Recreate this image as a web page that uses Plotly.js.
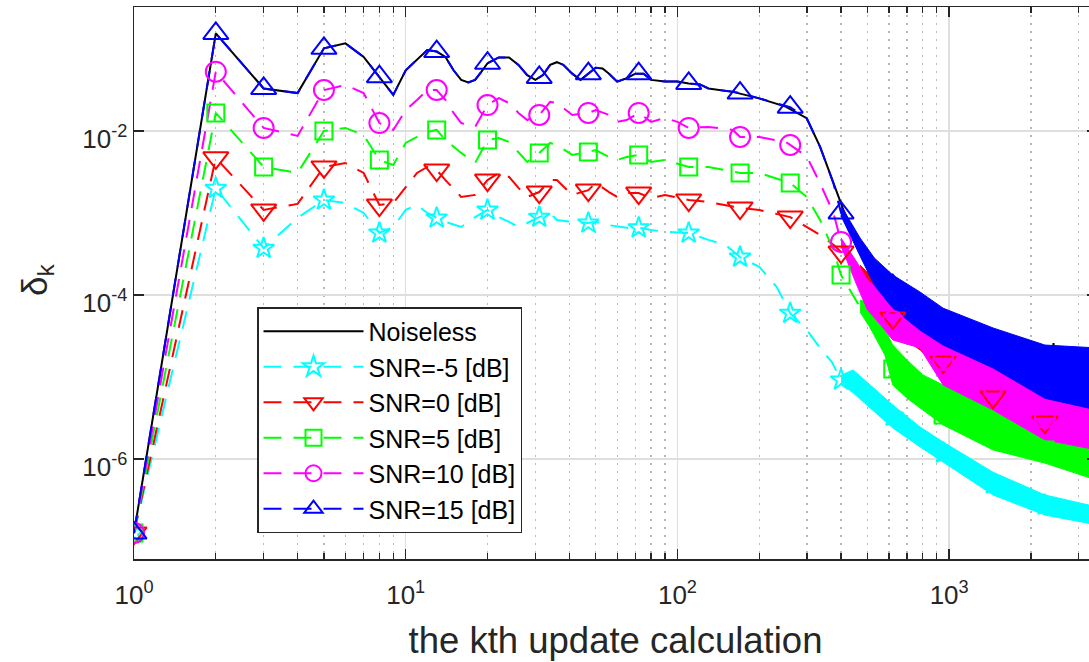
<!DOCTYPE html>
<html><head><meta charset="utf-8">
<script src="https://cdn.plot.ly/plotly-3.0.1.min.js"></script>
<style>html,body{margin:0;padding:0;overflow:hidden;background:#fff;} #chart{width:1097px;height:662px;}</style>
</head><body><div id="chart"></div>
<script>
// ---------- data ----------
const seriesNames = ['Noiseless', 'SNR=-5 [dB]', 'SNR=0 [dB]', 'SNR=5 [dB]', 'SNR=10 [dB]', 'SNR=15 [dB]'];
const markerK = [1,2,3,5,8,13,20,31,47,72,110,170,260,400,620,950,1450,2250];

const blackK = [1,2,3,4,5,6,7,8,9,10,11,12,13,14,15,16,17,18,19,20,22,24,26,28,30,32,34,36,38,41,44,47,50,53,56,60,65,70,75,80,90,100,110,121,130,160,200,250,299,335,375,408,470,557,620,780,815,829,843,935,949,963,1205,1225,1245,1450,2250,2390,2420,2450,3500];
const blackV = [1.25e-7,0.155,0.033,0.029,0.102,0.117,0.080,0.046,0.0275,0.055,0.073,0.097,0.093,0.080,0.055,0.042,0.039,0.042,0.053,0.067,0.079,0.079,0.064,0.048,0.042,0.048,0.064,0.069,0.064,0.050,0.042,0.050,0.059,0.058,0.050,0.040,0.044,0.050,0.050,0.042,0.040,0.040,0.038,0.037,0.033,0.030,0.025,0.0198,0.0143,0.0064,0.0023,0.00109,3.9e-4,1.5e-4,1.15e-4,6.6e-5,5.86e-5,8.7e-5,5.7e-5,4.2e-5,5.3e-5,4.0e-5,2.9e-5,3.74e-5,2.8e-5,2.26e-5,1.15e-5,1.12e-5,2.6e-5,1.1e-5,9.8e-6];

const cyanK = [1,2,3,4,5,6,7,8,9,10,11,12,13,14,16,18,20,22,24,26,28,31,34,36,41,47,50,56,65,72,80,90,110,130,150,170,200,232,260,300,335,370,400,443,620,782,950,1450,2250,3500];
const cyanV = [1.25e-7,2.0e-3,3.72e-4,8.7e-4,1.44e-3,1.32e-3,1.0e-3,5.7e-4,6.75e-4,1.09e-3,1.25e-3,1.0e-3,8.7e-4,7.8e-4,6.75e-4,8.9e-4,1.09e-3,8.9e-4,7.8e-4,6.75e-4,7.55e-4,8.9e-4,1.0e-3,8.2e-4,7.8e-4,7.55e-4,7.8e-4,7.1e-4,6.6e-4,6.6e-4,6.2e-4,5.9e-4,5.7e-4,4.7e-4,4.1e-4,2.9e-4,2.2e-4,1.25e-4,6.0e-5,3.7e-5,2.26e-5,1.52e-5,9.2e-6,8.8e-6,3.34e-6,1.85e-6,1.18e-6,5.0e-7,2.75e-7,2.0e-7];
const cyanTailK  = [400,443,620,782,950,1450,2250,3500];
const cyanTailHi = [1.05e-5,1.22e-5,4.56e-6,2.45e-6,1.61e-6,6.9e-7,3.64e-7,2.6e-7];
const cyanTailLo = [8.2e-6,6.4e-6,2.39e-6,1.4e-6,9.2e-7,3.64e-7,2.07e-7,1.57e-7];

const redK = [1,2,3,4,5,6,7,8,9,10,11,12,13,14,16,18,20,22,24,26,28,31,34,36,41,47,50,56,60,65,72,80,90,110,130,170,200,260,299,335,375,400,470,557,620,950,1450,2250,3500];
const redV = [1.25e-7,4.7e-3,1.09e-3,1.29e-3,3.64e-3,4.07e-3,3.08e-3,1.25e-3,1.32e-3,2.07e-3,3.08e-3,3.64e-3,3.34e-3,2.52e-3,1.57e-3,1.66e-3,2.52e-3,3.08e-3,2.75e-3,2.02e-3,1.57e-3,1.8e-3,2.52e-3,2.52e-3,1.66e-3,1.9e-3,2.32e-3,1.8e-3,1.57e-3,1.75e-3,1.75e-3,1.52e-3,1.66e-3,1.44e-3,1.36e-3,1.15e-3,1.09e-3,8.9e-4,6.75e-4,5.4e-4,4.1e-4,3.34e-4,1.85e-4,8.7e-5,5.25e-5,1.52e-5,5.7e-6,2.82e-6,2.13e-6];
const redTailK  = [470,557,620,782,950,1450,2250,3500];
const redTailHi = [2.32e-4,1.32e-4,1.0e-4,6.2e-5,3.96e-5,1.8e-5,7.98e-6,5.5e-6];
const redTailLo = [1.44e-4,6.6e-5,3.74e-5,2.13e-5,1.15e-5,4.95e-6,2.13e-6,1.61e-6];

const greenK = [1,2,3,4,5,6,7,8,9,10,11,12,13,14,16,18,20,22,24,26,28,31,34,36,41,47,50,56,60,65,72,80,90,110,130,170,200,260,299,335,375,400,470,510,580,620,700,800,950,1450,2250,3500];
const greenV = [1.25e-7,0.0166,3.64e-3,3.08e-3,0.0100,0.0109,8.9e-3,4.43e-3,3.85e-3,7.14e-3,8.45e-3,9.7e-3,0.0103,7.76e-3,5.4e-3,4.07e-3,7.76e-3,8.2e-3,7.34e-3,5.4e-3,4.19e-3,5.4e-3,7.14e-3,6.75e-3,5.1e-3,5.55e-3,5.86e-3,4.82e-3,4.43e-3,4.82e-3,5.1e-3,4.19e-3,4.43e-3,3.64e-3,3.64e-3,3.08e-3,3.08e-3,2.32e-3,1.57e-3,8.2e-4,3.54e-4,1.75e-4,7.1e-5,5.7e-5,2.67e-5,1.25e-5,9.7e-6,6.6e-6,3.44e-6,2.26e-6,1.29e-6,8.45e-7];
const greenTailK  = [470,510,580,620,700,800,950,1450,2250,3500];
const greenTailHi = [8.7e-5,7.98e-5,3.74e-5,2.45e-5,1.61e-5,1.06e-5,7.98e-6,3.96e-6,1.85e-6,1.29e-6];
const greenTailLo = [6.2e-5,4.07e-5,1.85e-5,7.98e-6,5.5e-6,3.96e-6,2.6e-6,1.29e-6,8.9e-7,5.5e-7];

const magK = [1,2,3,4,5,6,7,8,9,10,11,12,13,14,15,16,18,20,22,24,26,28,31,34,36,41,47,50,56,60,65,72,80,90,100,110,130,160,170,200,250,260,299,335,375,400,457,500,560,620,780,950,1450,2250,3500];
const magV = [1.25e-7,0.0528,0.0109,0.0087,0.0316,0.0364,0.029,0.0125,0.0103,0.018,0.0239,0.0316,0.0316,0.0239,0.0166,0.0125,0.0112,0.0207,0.0252,0.0219,0.0166,0.0136,0.0157,0.0226,0.0219,0.0157,0.0166,0.018,0.0157,0.0129,0.0136,0.0166,0.0129,0.0144,0.0129,0.0109,0.0112,0.0103,0.00845,0.00845,0.00734,0.00676,0.0049,0.0023,1.0e-3,4.43e-4,1.8e-4,9.7e-5,6.75e-5,4.82e-5,3.74e-5,1.61e-5,7.76e-6,3.16e-6,2.26e-6];
const magTailK  = [400,457,500,560,620,780,950,1450,2250,3500];
const magTailHi = [4.95e-4,2.52e-4,1.52e-4,1.09e-4,8.7e-5,6.2e-5,3.44e-5,1.52e-5,6.0e-6,4.19e-6];
const magTailLo = [3.96e-4,1.32e-4,6.6e-5,4.3e-5,2.83e-5,2.26e-5,7.98e-6,3.96e-6,1.71e-6,1.29e-6];

const blueK = [1,2,3,4,5,6,7,8,9,10,11,12,13,14,15,16,17,18,19,20,22,24,26,28,30,31,32,34,36,38,41,44,47,50,53,56,60,65,70,72,75,80,90,100,110,121,130,160,170,200,250,260,299,335,375,400,470,530,620,780,950,1450,2250,3500];
const blueV = [1.25e-7,0.155,0.033,0.029,0.102,0.117,0.080,0.046,0.0275,0.055,0.073,0.097,0.093,0.080,0.055,0.042,0.039,0.042,0.053,0.067,0.079,0.079,0.064,0.048,0.042,0.045,0.048,0.064,0.069,0.064,0.050,0.042,0.050,0.059,0.058,0.050,0.040,0.044,0.050,0.050,0.050,0.042,0.040,0.040,0.038,0.037,0.033,0.030,0.029,0.025,0.020,0.0195,0.0143,0.0064,0.0023,1.0e-3,3.85e-4,2.02e-4,1.3e-4,6.4e-5,4.07e-5,2.26e-5,1.15e-5,9.8e-6];
const blueTailK  = [400,470,530,620,780,950,1450,2250,3500];
const blueTailHi = [1.22e-3,4.95e-4,2.83e-4,1.75e-4,1.09e-4,6.9e-5,3.96e-5,2.45e-5,2.26e-5];
const blueTailLo = [9.2e-4,2.99e-4,1.32e-4,6.9e-5,3.74e-5,2.45e-5,1.29e-5,5.5e-6,3.96e-6];

const xTickVals = [1, 10, 100, 1000];
const xTickText = ['10<sup>0</sup>', '10<sup>1</sup>', '10<sup>2</sup>', '10<sup>3</sup>'];
const yTickVals = [1e-6, 1e-4, 1e-2];
const yTickText = ['10<sup>-6</sup>', '10<sup>-4</sup>', '10<sup>-2</sup>'];
const xTitle = 'the kth update calculation';
const yTitle = 'δ<sub>k</sub>';

// ---------- sanity check ----------
[[blackK,blackV],[cyanK,cyanV],[redK,redV],[greenK,greenV],[magK,magV],[blueK,blueV],
 [cyanTailK,cyanTailHi],[cyanTailK,cyanTailLo],[redTailK,redTailHi],[redTailK,redTailLo],
 [greenTailK,greenTailHi],[greenTailK,greenTailLo],[magTailK,magTailHi],[magTailK,magTailLo],
 [blueTailK,blueTailHi],[blueTailK,blueTailLo]].forEach(function(p, i){
  if (p[0].length !== p[1].length) throw new Error('length mismatch in pair ' + i + ': ' + p[0].length + ' vs ' + p[1].length);
});

// ---------- styling ----------
const DASH = '18px,12px';
const noisy = [
  {name: seriesNames[1], k: cyanK,  v: cyanV,  tk: cyanTailK,  hi: cyanTailHi,  lo: cyanTailLo,  color: '#00ffff', symbol: 'star-open',          size: 16},
  {name: seriesNames[2], k: redK,   v: redV,   tk: redTailK,   hi: redTailHi,   lo: redTailLo,   color: '#ff0000', symbol: 'triangle-down-open', size: 22},
  {name: seriesNames[3], k: greenK, v: greenV, tk: greenTailK, hi: greenTailHi, lo: greenTailLo, color: '#00ff00', symbol: 'square-open',        size: 17},
  {name: seriesNames[4], k: magK,   v: magV,   tk: magTailK,   hi: magTailHi,   lo: magTailLo,   color: '#ff00ff', symbol: 'circle-open',        size: 20},
  {name: seriesNames[5], k: blueK,  v: blueV,  tk: blueTailK,  hi: blueTailHi,  lo: blueTailLo,  color: '#0000ff', symbol: 'triangle-up-open',   size: 22}
];

const traces = [];
traces.push({x: blackK, y: blackV, mode: 'lines', line: {color: '#000000', width: 2}, showlegend: false, hoverinfo: 'skip'});
noisy.forEach(function(s){
  traces.push({
    x: s.tk.concat(s.tk.slice().reverse()),
    y: s.hi.concat(s.lo.slice().reverse()),
    mode: 'lines', fill: 'toself', fillcolor: s.color, line: {color: s.color, width: 1},
    showlegend: false, hoverinfo: 'skip'
  });
  traces.push({x: s.k, y: s.v, mode: 'lines', line: {color: s.color, width: 2, dash: DASH}, showlegend: false, hoverinfo: 'skip'});
});
noisy.forEach(function(s){
  const mx = [], my = [];
  s.k.forEach(function(kk, i){ if (markerK.indexOf(kk) >= 0) { mx.push(kk); my.push(s.v[i]); } });
  traces.push({x: mx, y: my, mode: 'markers', marker: {symbol: s.symbol, size: s.size, color: s.color, line: {color: s.color, width: 2}}, showlegend: false, hoverinfo: 'skip'});
});
// legend entries (no data; they live on the label-only axis x2 so that axis gets drawn)
traces.push({x: [null], y: [null], xaxis: 'x2', mode: 'lines', name: seriesNames[0], legendgroup: 'g0', line: {color: '#000000', width: 2}});
noisy.forEach(function(s, i){
  traces.push({x: [null], y: [null], xaxis: 'x2', mode: 'lines+markers', name: s.name, legendgroup: 'g' + (i + 1),
    line: {color: s.color, width: 2, dash: DASH},
    marker: {symbol: s.symbol, size: s.size, color: s.color, line: {color: s.color, width: 2}}});
});

const minorVals = [];
for (let d = 0; d < 4; d++) for (let m = 2; m <= 9; m++) minorVals.push(m * Math.pow(10, d));

const AX = '#262626';
const X_RANGE = [0, 3.544];
const layout = {
  width: 1097, height: 662,
  margin: {l: 134, r: 0, t: 7, b: 103},
  paper_bgcolor: '#ffffff', plot_bgcolor: '#ffffff',
  font: {family: 'Liberation Sans, Arial, Helvetica, sans-serif', color: AX},
  showlegend: true,
  xaxis: {
    type: 'log', range: X_RANGE, tickmode: 'array', tickvals: xTickVals, ticktext: xTickText,
    showticklabels: false,
    ticks: 'inside', ticklen: 10, tickwidth: 1.5, tickcolor: AX,
    showline: true, linecolor: AX, linewidth: 1.5, mirror: 'ticks',
    showgrid: true, gridcolor: '#dedede', gridwidth: 1.5, zeroline: false,
    minor: {tickmode: 'array', tickvals: minorVals, ticks: 'inside', ticklen: 6, tickwidth: 1.3, tickcolor: AX,
            showgrid: true, gridcolor: '#b8b8b8', gridwidth: 1.3, griddash: '2px,6px'},
    title: {text: xTitle, font: {size: 36.5, color: AX}, standoff: 68}
  },
  // label-only axis so the tick labels sit a little further below the frame, as in the reference
  xaxis2: {
    type: 'log', range: X_RANGE, overlaying: 'x', anchor: 'y', side: 'bottom',
    tickmode: 'array', tickvals: xTickVals, ticktext: xTickText,
    ticks: 'outside', ticklen: 13, tickcolor: 'rgba(0,0,0,0)',
    showline: false, showgrid: false, zeroline: false,
    tickfont: {size: 26, color: AX}
  },
  yaxis: {
    type: 'log', range: [-7.22, -0.488], tickmode: 'array', tickvals: yTickVals, ticktext: yTickText,
    ticks: 'inside', ticklen: 10, tickwidth: 1.5, tickcolor: AX,
    showline: true, linecolor: AX, linewidth: 1.5, mirror: 'ticks',
    showgrid: true, gridcolor: '#dedede', gridwidth: 1.5, zeroline: false,
    tickfont: {size: 26, color: AX}, ticklabelshift: 8
  },
  annotations: [{
    text: yTitle, xref: 'paper', yref: 'paper', x: (37 - 134) / 963, y: (559 - 280) / 552,
    xanchor: 'center', yanchor: 'middle', textangle: -90, showarrow: false,
    font: {size: 35, color: AX}
  }],
  legend: {
    x: (257 - 134) / 963, y: (559 - 307) / 552, xanchor: 'left', yanchor: 'top',
    bgcolor: '#ffffff', bordercolor: AX, borderwidth: 1.5,
    font: {size: 25, color: '#000000', family: 'Liberation Sans, Arial, sans-serif'},
    itemwidth: 100, tracegroupgap: 0
  }
};

Plotly.newPlot('chart', traces, layout, {staticPlot: true, displayModeBar: false});
</script>
</body></html>
